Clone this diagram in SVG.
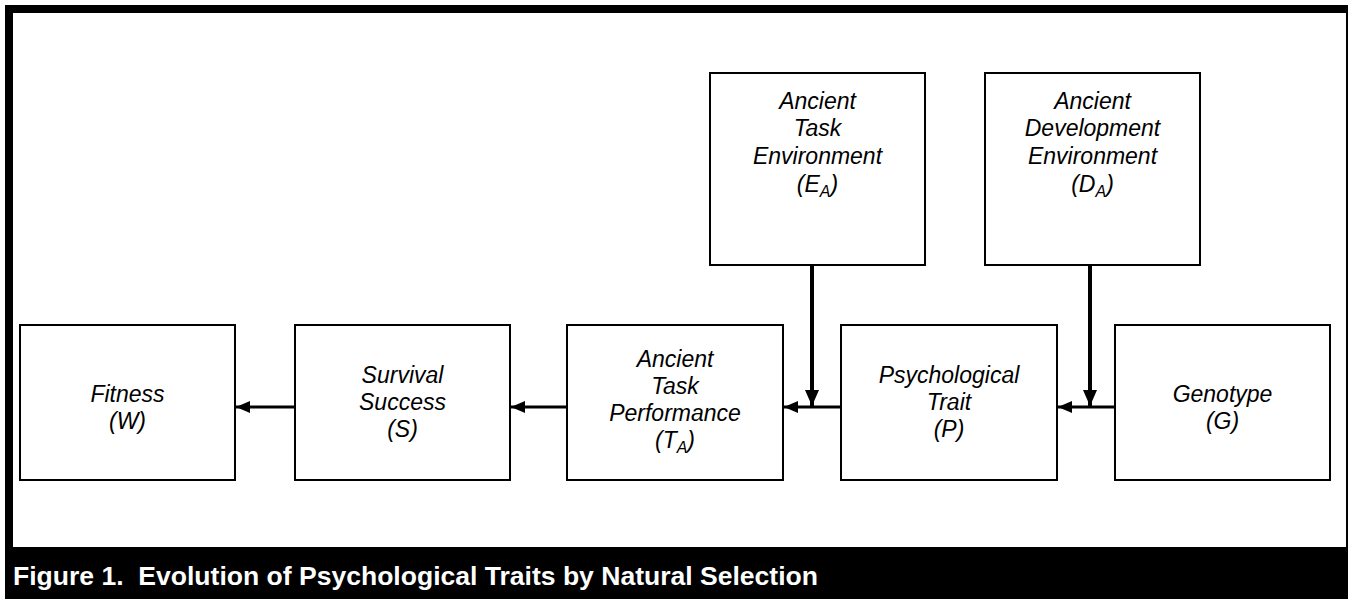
<svg xmlns="http://www.w3.org/2000/svg" width="1348" height="599" viewBox="0 0 1348 599">
<style>
.box{fill:#fff;stroke:#000;stroke-width:2}
.t{font-family:"Liberation Sans",Arial,sans-serif;font-size:23px;font-style:italic;text-anchor:middle;fill:#000}
.sub{font-size:16px}
.line{stroke:#000;stroke-width:3;fill:none}
.vline{stroke:#000;stroke-width:4;fill:none}
.cap{font-family:"Liberation Sans",Arial,sans-serif;font-size:25px;font-weight:bold;fill:#fff}
</style>
<defs>
<marker id="ah" viewBox="0 0 14 12" refX="14" refY="6" markerWidth="14" markerHeight="12" markerUnits="userSpaceOnUse" orient="auto">
<path d="M0,0 L14,6 L0,12 Z" fill="#000"/>
</marker>
<marker id="av" viewBox="0 0 16 14" refX="16" refY="7" markerWidth="16" markerHeight="14" markerUnits="userSpaceOnUse" orient="auto">
<path d="M0,0 L16,7 L0,14 Z" fill="#000"/>
</marker>
</defs>
<rect x="5" y="5" width="1343" height="594" fill="#000"/>
<rect x="13" y="13" width="1333" height="534" fill="#fff"/>
<text class="cap" x="13" y="585" xml:space="preserve" textLength="805" lengthAdjust="spacingAndGlyphs">Figure 1.  Evolution of Psychological Traits by Natural Selection</text>

<g id="fitness">
<rect class="box" x="20" y="325" width="215" height="155"/>
<text class="t" x="127.5" y="402">Fitness</text>
<text class="t" x="127.5" y="429">(W)</text>
</g>
<g id="survival">
<rect class="box" x="295" y="325" width="215" height="155"/>
<text class="t" x="402.5" y="383">Survival</text>
<text class="t" x="402.5" y="410">Success</text>
<text class="t" x="402.5" y="437">(S)</text>
</g>
<g id="performance">
<rect class="box" x="567" y="325" width="216" height="155"/>
<text class="t" x="675" y="367">Ancient</text>
<text class="t" x="675" y="394">Task</text>
<text class="t" x="675" y="421">Performance</text>
<text class="t" x="675" y="448">(T<tspan class="sub" dy="5">A</tspan><tspan dy="-5">)</tspan></text>
</g>
<g id="trait">
<rect class="box" x="841" y="325" width="216" height="155"/>
<text class="t" x="949" y="383">Psychological</text>
<text class="t" x="949" y="410">Trait</text>
<text class="t" x="949" y="437">(P)</text>
</g>
<g id="genotype">
<rect class="box" x="1115" y="325" width="215" height="155"/>
<text class="t" x="1222.5" y="402">Genotype</text>
<text class="t" x="1222.5" y="429">(G)</text>
</g>
<g id="task-env">
<rect class="box" x="710" y="73" width="215" height="192"/>
<text class="t" x="817.5" y="109">Ancient</text>
<text class="t" x="817.5" y="136">Task</text>
<text class="t" x="817.5" y="164">Environment</text>
<text class="t" x="817.5" y="192">(E<tspan class="sub" dy="5">A</tspan><tspan dy="-5">)</tspan></text>
</g>
<g id="dev-env">
<rect class="box" x="985" y="73" width="215" height="192"/>
<text class="t" x="1092.5" y="109">Ancient</text>
<text class="t" x="1092.5" y="136">Development</text>
<text class="t" x="1092.5" y="164">Environment</text>
<text class="t" x="1092.5" y="192">(D<tspan class="sub" dy="5">A</tspan><tspan dy="-5">)</tspan></text>
</g>

<g id="connectors">
<line class="line" x1="295" y1="407" x2="236" y2="407" marker-end="url(#ah)"/>
<line class="line" x1="567" y1="407" x2="511" y2="407" marker-end="url(#ah)"/>
<line class="line" x1="841" y1="407" x2="784" y2="407" marker-end="url(#ah)"/>
<line class="line" x1="1115" y1="407" x2="1058" y2="407" marker-end="url(#ah)"/>
<line class="vline" x1="812" y1="265" x2="812" y2="406" marker-end="url(#av)"/>
<line class="vline" x1="1090" y1="265" x2="1090" y2="406" marker-end="url(#av)"/>
</g>
</svg>
